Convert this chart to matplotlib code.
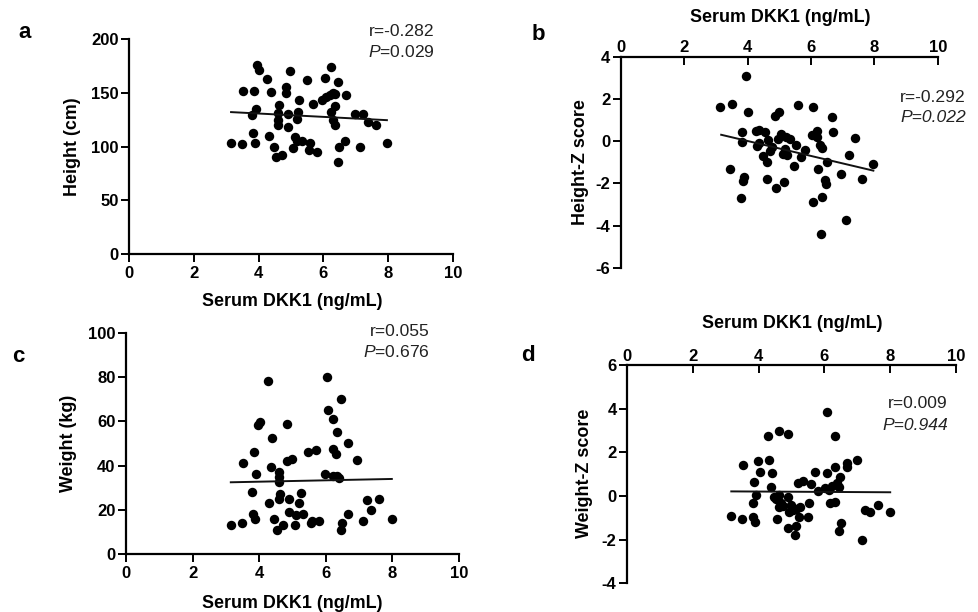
import matplotlib
matplotlib.use("Agg")
import matplotlib.pyplot as plt

plt.rcParams['font.family'] = ['Liberation Sans', 'DejaVu Sans']
plt.rcParams['mathtext.fontset'] = 'custom'
plt.rcParams['mathtext.rm'] = 'Liberation Sans'
plt.rcParams['mathtext.it'] = 'Liberation Sans:italic'
plt.rcParams['axes.unicode_minus'] = False

# ---------------- data ----------------
a_x = [3.14, 3.49, 3.51, 3.83, 3.85, 3.89, 3.91, 3.81, 3.96, 4.02, 4.26, 4.32, 4.38, 4.48, 4.55,
       4.63, 4.61, 4.61, 4.61, 4.71, 4.86, 4.86, 4.92, 4.98, 4.92, 5.07, 5.12, 5.2, 5.2, 5.22,
       5.26, 5.33, 5.49, 5.55, 5.59, 5.68, 5.81, 5.96, 6.05, 6.09, 6.2, 6.22, 6.22, 6.29, 6.29,
       6.35, 6.36, 6.36, 6.45, 6.46, 6.48, 6.69, 6.68, 6.97, 7.12, 7.22, 7.37, 7.61, 7.96]
a_y = [103, 102, 152, 113, 152, 103, 135, 129, 176, 171, 163, 110, 151, 100, 90,
       139, 131, 125, 120, 92, 155, 150, 118, 170, 130, 99, 109, 105, 126, 132,
       143, 105, 162, 97, 103, 140, 95, 143, 164, 146, 148, 174, 132, 150, 125,
       149, 138, 120, 160, 86, 100, 148, 105, 130, 100, 130, 123, 120, 103]
a_fit_x = [3.15, 7.96]
a_fit_y = [132, 124.5]

b_x = [3.95, 3.13, 3.5, 4.02, 3.84, 3.84, 3.46, 3.9, 3.87, 3.81, 4.27, 4.37, 4.56, 4.29, 4.37,
       4.48, 4.62, 4.61, 4.65, 4.76, 4.71, 4.86, 4.98, 4.9, 4.95, 5.07, 5.11, 5.15, 5.2, 5.18,
       5.24, 5.34, 5.47, 5.53, 5.58, 5.69, 5.8, 6.02, 6.06, 6.08, 6.2, 6.18, 6.23, 6.29, 6.35,
       6.35, 6.45, 6.47, 6.5, 6.32, 6.67, 6.69, 6.96, 7.21, 7.12, 7.39, 7.62, 7.97]
b_y = [3.1, 1.63, 1.76, 1.38, 0.41, -0.06, -1.34, -1.7, -1.89, -2.71, 0.49, 0.52, 0.43, -0.23, -0.08,
       -0.72, -0.99, -1.78, 0.05, -0.27, -0.49, 1.2, 1.36, -2.24, 0.08, 0.32, -0.61, -1.96, 0.21, -0.38,
       -0.66, 0.08, -1.17, -0.19, 1.69, -0.77, -0.42, 0.3, 1.61, -2.87, 0.49, 0.21, -1.31, -0.2, -0.34,
       -2.67, -1.85, -2.04, -0.98, -4.42, 1.16, 0.43, -1.58, -0.68, -3.76, 0.13, -1.81, -1.1]
b_fit_x = [3.17, 7.97]
b_fit_y = [0.3, -1.4]

c_x = [3.15, 3.49, 3.51, 3.8, 3.83, 3.85, 3.89, 3.91, 3.96, 4.02, 4.26, 4.31, 4.36, 4.39, 4.46,
       4.55, 4.61, 4.61, 4.61, 4.63, 4.61, 4.71, 4.85, 4.85, 4.91, 4.98, 4.91, 5.07, 5.12, 5.2,
       5.26, 5.33, 5.47, 5.55, 5.59, 5.7, 5.81, 5.98, 6.05, 6.08, 6.21, 6.21, 6.23, 6.31, 6.33,
       6.35, 6.39, 6.45, 6.48, 6.45, 6.67, 6.68, 6.95, 7.13, 7.23, 7.36, 7.6, 7.99]
c_y = [13.1, 14, 41, 28.3, 18.2, 46.2, 16.1, 36.1, 58.2, 59.8, 78, 23.2, 39.4, 52.6, 16.1,
       11, 37, 35, 32.8, 27.1, 25, 13.1, 58.6, 42, 25, 42.9, 19.1, 13.2, 17.7, 23,
       27.8, 18.2, 46, 14.3, 15.2, 47, 15.2, 36.2, 80.2, 65.1, 60.9, 35.5, 47.4, 45.1, 55,
       35.3, 34.3, 70.1, 14.3, 11, 18, 50.1, 42.6, 15, 24.5, 20, 25, 16.1]
c_fit_x = [3.15, 7.99]
c_fit_y = [32.5, 34]

d_x = [6.07, 4.28, 4.61, 4.88, 6.33, 3.54, 3.97, 4.31, 4.04, 4.41, 3.86, 4.37, 3.92, 3.84, 3.15,
       3.5, 3.82, 3.9, 4.46, 4.53, 4.61, 4.69, 4.61, 4.75, 4.9, 4.57, 5.0, 4.92, 5.05, 5.15,
       5.26, 5.24, 4.9, 5.15, 5.1, 5.2, 5.36, 5.51, 5.54, 5.58, 5.71, 5.82, 6.09, 6.02, 6.15,
       6.22, 6.17, 6.32, 6.32, 6.37, 6.43, 6.47, 6.49, 6.45, 6.7, 6.68, 6.98, 7.15, 7.23, 7.39,
       7.62, 8.0]
d_y = [3.86, 2.76, 2.99, 2.84, 2.76, 1.4, 1.62, 1.65, 1.1, 1.04, 0.64, 0.41, 0.05, -0.34, -0.92,
       -1.04, -0.98, -1.18, -0.03, -0.15, 0.05, -0.34, -0.49, -0.46, -0.03, -1.04, -0.41, -0.73, -0.64, -0.6,
       -0.49, -0.98, -1.45, -1.37, -1.79, 0.61, 0.67, -0.95, -0.34, 0.53, 1.1, 0.23, 1.04, 0.35, 0.27,
       0.47, -0.31, -0.26, 1.31, 0.58, 0.43, 0.89, -1.25, -1.59, 1.34, 1.5, 1.65, -2.02, -0.64, -0.72,
       -0.41, -0.75]
d_fit_x = [3.17, 8.0]
d_fit_y = [0.21, 0.17]

x_ticks = [0, 2, 4, 6, 8, 10]
xlabel = "Serum DKK1 (ng/mL)"

# ---------------- figure ----------------
W, H = 979, 612
fig = plt.figure(figsize=(W / 100, H / 100), dpi=100)

TICK_FS = 12
LABEL_FS = 12.9
STAT_FS = 12.6


def rect(l, t, r, b):
    return [l / W, 1 - b / H, (r - l) / W, (b - t) / H]


def style(ax, top=False):
    for s in ax.spines.values():
        s.set_linewidth(1.6)
    ax.spines['right'].set_visible(False)
    if top:
        ax.spines['bottom'].set_visible(False)
        ax.xaxis.tick_top()
        ax.xaxis.set_label_position('top')
        ax.tick_params(axis='x', direction='in', pad=1)
    else:
        ax.spines['top'].set_visible(False)
        ax.tick_params(axis='x', direction='out', pad=3)
    ax.tick_params(axis='both', length=5.5, width=1.4, labelsize=TICK_FS)
    ax.tick_params(axis='y', pad=2)
    ax.set_xlim(0, 10)
    ax.set_xticks(x_ticks)
    for lab in ax.get_xticklabels() + ax.get_yticklabels():
        lab.set_fontweight('bold')


def scatter(ax, x, y, fx, fy):
    ax.plot(x, y, 'o', color='black', markersize=6.8, markeredgewidth=0, clip_on=False)
    ax.plot(fx, fy, '-', color='#111111', linewidth=1.4)


def labels(ax, ylab, xc, yc):
    ax.set_xlabel(xlabel, fontsize=LABEL_FS, fontweight='bold')
    ax.xaxis.set_label_coords(*xc)
    ax.xaxis.label.set_va('center')
    ax.set_ylabel(ylab, fontsize=LABEL_FS, fontweight='bold')
    ax.yaxis.set_label_coords(*yc)
    ax.yaxis.label.set_va('center')


# Panel a
ax_a = fig.add_axes(rect(129, 39, 453, 254))
scatter(ax_a, a_x, a_y, a_fit_x, a_fit_y)
ax_a.set_ylim(0, 200)
ax_a.set_yticks([0, 50, 100, 150, 200])
style(ax_a)
labels(ax_a, "Height (cm)", (0.503, -0.223), (-0.173, 0.498))

# Panel b
ax_b = fig.add_axes(rect(620.7, 56.7, 937.7, 267.7))
scatter(ax_b, b_x, b_y, b_fit_x, b_fit_y)
ax_b.set_ylim(-6, 4)
ax_b.set_yticks([-6, -4, -2, 0, 2, 4])
style(ax_b, top=True)
labels(ax_b, "Height-Z score", (0.5025, 1.188), (-0.128, 0.501))

# Panel c
ax_c = fig.add_axes(rect(126, 332.7, 458.7, 554.3))
scatter(ax_c, c_x, c_y, c_fit_x, c_fit_y)
ax_c.set_ylim(0, 100)
ax_c.set_yticks([0, 20, 40, 60, 80, 100])
style(ax_c)
labels(ax_c, "Weight (kg)", (0.499, -0.22), (-0.174, 0.502))

# Panel d
ax_d = fig.add_axes(rect(627, 365, 956, 583.3))
scatter(ax_d, d_x, d_y, d_fit_x, d_fit_y)
ax_d.set_ylim(-4, 6)
ax_d.set_yticks([-4, -2, 0, 2, 4, 6])
style(ax_d, top=True)
labels(ax_d, "Weight-Z score", (0.5015, 1.192), (-0.128, 0.505))


def ftext(x, y, s, **kw):
    fig.text(x / W, 1 - y / H, s, **kw)


tc = '#222222'
# panel letters
for (x, y, s) in [(25, 33, 'a'), (538, 35, 'b'), (18, 357, 'c'), (528, 355, 'd')]:
    ftext(x, y, s, fontsize=16, fontweight='bold', ha='center', va='center')

# stats
ftext(435, 32, "r=-0.282", fontsize=STAT_FS, ha='right', va='center', color=tc)
ftext(435, 52, r"$\mathit{P}$=0.029", fontsize=STAT_FS, ha='right', va='center', color=tc)
ftext(966, 98, "r=-0.292", fontsize=STAT_FS, ha='right', va='center', color=tc)
ftext(966, 118, "P=0.022", fontsize=STAT_FS, ha='right', va='center', color=tc, fontstyle='italic')
ftext(430, 332, "r=0.055", fontsize=STAT_FS, ha='right', va='center', color=tc)
ftext(430, 352, r"$\mathit{P}$=0.676", fontsize=STAT_FS, ha='right', va='center', color=tc)
ftext(948, 404, "r=0.009", fontsize=STAT_FS, ha='right', va='center', color=tc)
ftext(948, 425, "P=0.944", fontsize=STAT_FS, ha='right', va='center', color=tc, fontstyle='italic')

fig.savefig("out.png", dpi=100)
